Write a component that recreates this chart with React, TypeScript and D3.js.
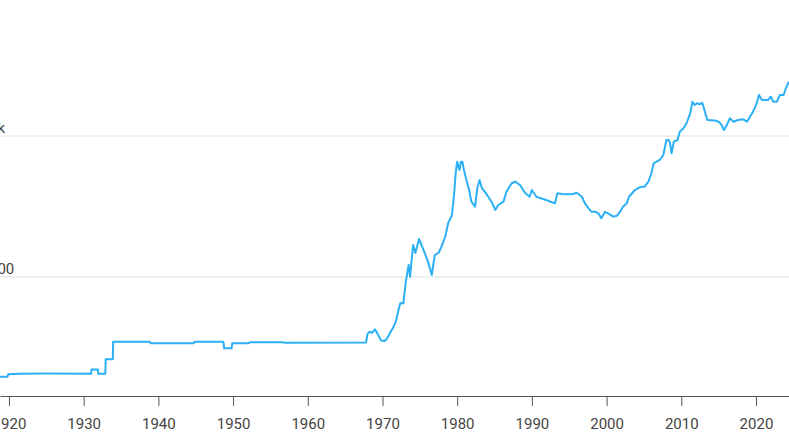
import React, { useEffect, useRef } from 'react';
import * as d3 from 'd3';

// gold price (USD / oz)
const years = [
  1918.8, 1919.8, 1919.9, 1921.5, 1925, 1931.0, 1931.05, 1931.9, 1931.95, 1932.9, 1932.95, 1933.9, 1933.95,
  1938.8, 1939.0, 1944.7, 1944.9, 1948.7, 1948.8, 1949.8, 1949.9, 1952.0, 1952.3, 1956.5, 1957, 1967.8,
  1968.0, 1968.3, 1968.6, 1969.0, 1969.3, 1969.8, 1970.3, 1970.6, 1971.0, 1971.4, 1971.8, 1972.2, 1972.4,
  1972.8, 1973.1, 1973.5, 1973.7, 1973.9, 1974.1, 1974.4, 1974.9, 1975.5, 1976.1, 1976.6, 1977.0, 1977.5,
  1977.9, 1978.4, 1978.8, 1979.3, 1979.6, 1979.8, 1980.0, 1980.3, 1980.5, 1980.7, 1980.9, 1981.3, 1981.6,
  1981.9, 1982.4, 1982.7, 1983.0, 1983.3, 1984.0, 1984.6, 1985.1, 1985.5, 1986.2, 1986.6, 1987.3, 1987.8,
  1988.4, 1989.1, 1989.7, 1990.0, 1990.6, 1991.2, 1991.9, 1992.5, 1993.1, 1993.4, 1994.0, 1994.9, 1995.5,
  1996.0, 1996.7, 1997.1, 1997.6, 1998.0, 1998.5, 1998.9, 1999.3, 1999.8, 2000.2, 2000.9, 2001.4, 2001.8,
  2002.2, 2002.7, 2003.0, 2003.8, 2004.2, 2004.7, 2005.1, 2005.6, 2006.0, 2006.3, 2006.7, 2007.1, 2007.6,
  2008.0, 2008.3, 2008.5, 2008.7, 2009.0, 2009.5, 2009.8, 2010.3, 2010.7, 2011.2, 2011.5, 2011.8, 2012.1,
  2012.5, 2012.8, 2013.0, 2013.3, 2013.5, 2014.5, 2015.0, 2015.4, 2015.7, 2016.1, 2016.5, 2017.0, 2017.6,
  2018.3, 2018.8, 2019.2, 2019.6, 2020.1, 2020.4, 2020.8, 2021.2, 2021.6, 2022.0, 2022.3, 2022.8, 2023.2,
  2023.7, 2024.0, 2024.4,
];
const prices = [
  19.6, 19.6, 20.4, 20.6, 20.7, 20.6, 22.1, 22.1, 20.6, 20.6, 26.1, 26.1, 34.8,
  34.8, 33.9, 33.9, 34.8, 34.8, 31.2, 31.2, 33.9, 33.9, 34.4, 34.4, 34.2, 34.3,
  39.5, 41, 40.1, 42.5, 40, 35.5, 35.2, 36.5, 40, 43.5, 48.5, 60, 65.4,
  65, 90.6, 121.7, 100.5, 132, 168.6, 148, 186, 155.4, 128.4, 103.3, 143.2, 148,
  164, 193, 241.5, 275, 394, 546, 657, 574, 657, 657, 574, 474, 414,
  342, 315, 428, 487, 428, 382, 342, 299, 324, 342, 403, 462, 474,
  449, 394, 371, 414, 371, 362, 352, 342, 333, 392, 388, 386, 388,
  396, 371, 333, 307, 290, 290, 283, 261, 290, 283, 268, 272, 290,
  315, 333, 371, 414, 426, 437, 437, 474, 544, 640, 657, 676, 733,
  937, 937, 888, 754, 911, 937, 1073, 1134, 1231, 1449, 1751, 1659, 1706,
  1680, 1720, 1600, 1400, 1300, 1289, 1263, 1197, 1103, 1197, 1335, 1263, 1298,
  1313, 1263, 1371, 1487, 1706, 1954, 1800, 1800, 1800, 1900, 1751, 1751, 1954,
  1954, 2179, 2427,
];

const xTicks = [1920, 1930, 1940, 1950, 1960, 1970, 1980, 1990, 2000, 2010, 2020];
const yTicks = [100, 1000];
const yTickLabels = ['100', '1k'];

const App: React.FC = () => {
  const svgRef = useRef<SVGSVGElement>(null);

  useEffect(() => {
    if (!svgRef.current) return;
    const width = 789;
    const height = 444;
    const axisY = 396;

    const svg = d3.select(svgRef.current);
    svg.selectAll('*').remove();
    svg.attr('width', width).attr('height', height);

    const x = d3.scaleLinear().domain([1918.8, 2024.42]).range([0, width]);
    const y = d3.scaleLog().domain([100, 1000]).range([277, 136]);

    // gridlines + labels
    yTicks.forEach((v, i) => {
      svg.append('line')
        .attr('x1', 0).attr('x2', width)
        .attr('y1', y(v)).attr('y2', y(v))
        .attr('stroke', '#e0e0e0')
        .attr('stroke-width', 1);
      svg.append('text')
        .attr('x', -11)
        .attr('y', y(v) - 3)
        .attr('fill', '#444')
        .attr('font-family', 'Roboto, sans-serif')
        .attr('font-size', 15)
        .text(yTickLabels[i]);
    });

    const xAxis = svg.append('g')
      .attr('transform', `translate(0,${axisY})`)
      .call(d3.axisBottom(x).tickValues(xTicks).tickFormat(d3.format('d')).tickSize(10).tickSizeOuter(0));
    xAxis.select('.domain').attr('stroke', '#555').attr('stroke-width', 1);
    xAxis.selectAll('.tick line').attr('stroke', '#555');
    xAxis.selectAll('.tick text')
      .attr('fill', '#444')
      .attr('font-family', 'Roboto, sans-serif')
      .attr('font-size', 15)
      .attr('dy', '1.3em');

    const data = years.map((yr, i) => [yr, prices[i]] as [number, number]);
    const line = d3.line<[number, number]>()
      .x(d => x(d[0]))
      .y(d => y(d[1]));

    svg.append('path')
      .datum(data)
      .attr('fill', 'none')
      .attr('stroke', '#2cb0f5')
      .attr('stroke-width', 2)
      .attr('stroke-linejoin', 'round')
      .attr('d', line);
  }, []);

  return (
    <svg ref={svgRef} style={{ position: 'absolute', left: 0, top: 0, background: '#fff' }}></svg>
  );
};

export default App;
